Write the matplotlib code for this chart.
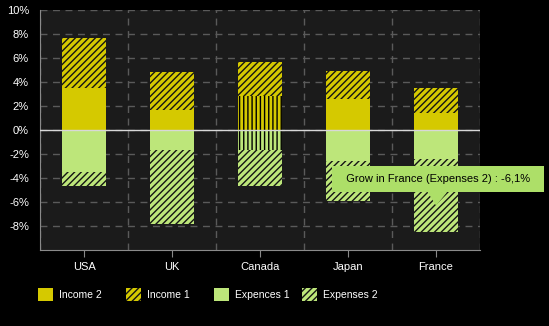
import numpy as np
import matplotlib.pyplot as plt
from matplotlib.patches import Patch

plt.rcParams['font.family'] = ['Liberation Sans', 'DejaVu Sans']
plt.rcParams['hatch.linewidth'] = 1.0

countries = ['USA', 'UK', 'Canada', 'Japan', 'France']
income2 = [3.5, 1.7, 2.8, 2.6, 1.4]
income1 = [4.2, 3.1, 2.9, 2.3, 2.1]
expences1 = [-3.5, -1.7, -1.7, -2.6, -2.4]
expenses2 = [-1.2, -6.1, -3.0, -3.3, -6.1]
series_names = ['Income 2', 'Income 1', 'Expences 1', 'Expenses 2']
yticks = [-8, -6, -4, -2, 0, 2, 4, 6, 8, 10]
highlight = 'Canada'
tooltip = 'Grow in France (Expenses 2) : -6,1%'

yellow = '#d5c900'
green = '#bde67a'
tip_green = '#addf68'
diag = '/////'

fig = plt.figure(figsize=(5.49, 3.26), dpi=100, facecolor='black')
ax = fig.add_axes([40 / 549, 76 / 326, 440 / 549, 240 / 326])
ax.set_facecolor('#1b1b1b')

x = np.arange(len(countries))
w = 0.5
i2 = np.array(income2)
e1 = np.array(expences1)

b1 = ax.bar(x, income2, w, color=yellow, edgecolor='black', lw=0, zorder=2)
b2 = ax.bar(x, income1, w, bottom=i2, color=yellow, edgecolor='#141414',
            lw=0, hatch=diag, zorder=2)
b3 = ax.bar(x, expences1, w, color=green, edgecolor='black', lw=0, zorder=2)
b4 = ax.bar(x, expenses2, w, bottom=e1, color=green, edgecolor='#141414',
            lw=0, hatch=diag, zorder=2)

# hovered category gets vertical stripes on the plain segments
k = countries.index(highlight)
b1[k].set_hatch('||||')
b3[k].set_hatch('||||')

ax.axhline(0, color='#d8d8d8', lw=1, zorder=3)

ax.set_xlim(-0.5, len(countries) - 0.5)
ax.set_ylim(-10, 10)
ax.set_xticks(x)
ax.set_xticklabels(countries)
ax.set_xticks(np.arange(len(countries) + 1) - 0.5, minor=True)
ax.set_yticks(yticks)
ax.set_yticklabels([f'{v}%' for v in yticks])
ax.tick_params(axis='x', which='major', colors='#888888', labelcolor='white',
               length=5, labelsize=8, pad=4)
ax.tick_params(axis='x', which='minor', length=0)
ax.tick_params(axis='y', length=0, labelcolor='white', labelsize=8, pad=8)
ax.grid(axis='y', which='major', color='#5a5a5a', ls=(0, (5, 4)), lw=1)
ax.grid(axis='x', which='minor', color='#5a5a5a', ls=(0, (5, 4)), lw=1)
ax.set_axisbelow(True)
for s in ['top', 'right']:
    ax.spines[s].set_visible(False)
for s in ['left', 'bottom']:
    ax.spines[s].set_color('#8a8a8a')

# tooltip on France / Expenses 2
fr = countries.index('France')
ax.annotate('  ' + tooltip + '  ', xy=(fr, -6.4), xytext=(fr + 0.02, -4.08),
            ha='center', va='center', fontsize=8, color='black',
            annotation_clip=False, zorder=5,
            bbox=dict(boxstyle='square,pad=0.68', fc=tip_green, ec='none'),
            arrowprops=dict(arrowstyle='-|>,head_length=0.5,head_width=0.36',
                            fc=tip_green, ec='none', mutation_scale=20,
                            shrinkA=0, shrinkB=0))

handles = [Patch(fc=yellow, lw=0),
           Patch(fc=yellow, ec='#141414', lw=0, hatch=diag),
           Patch(fc=green, lw=0),
           Patch(fc=green, ec='#141414', lw=0, hatch=diag)]
for j, (h, name) in enumerate(zip(handles, series_names)):
    fig.legend(handles=[h], labels=[name], loc='center left',
               bbox_to_anchor=((38 + 88 * j) / 549, 0.0966),
               frameon=False, fontsize=7.5, labelcolor='white',
               handlelength=1.45, handleheight=1.45, handletextpad=0.55,
               borderpad=0, borderaxespad=0)

fig.savefig('out.png', dpi=100, facecolor='black')
